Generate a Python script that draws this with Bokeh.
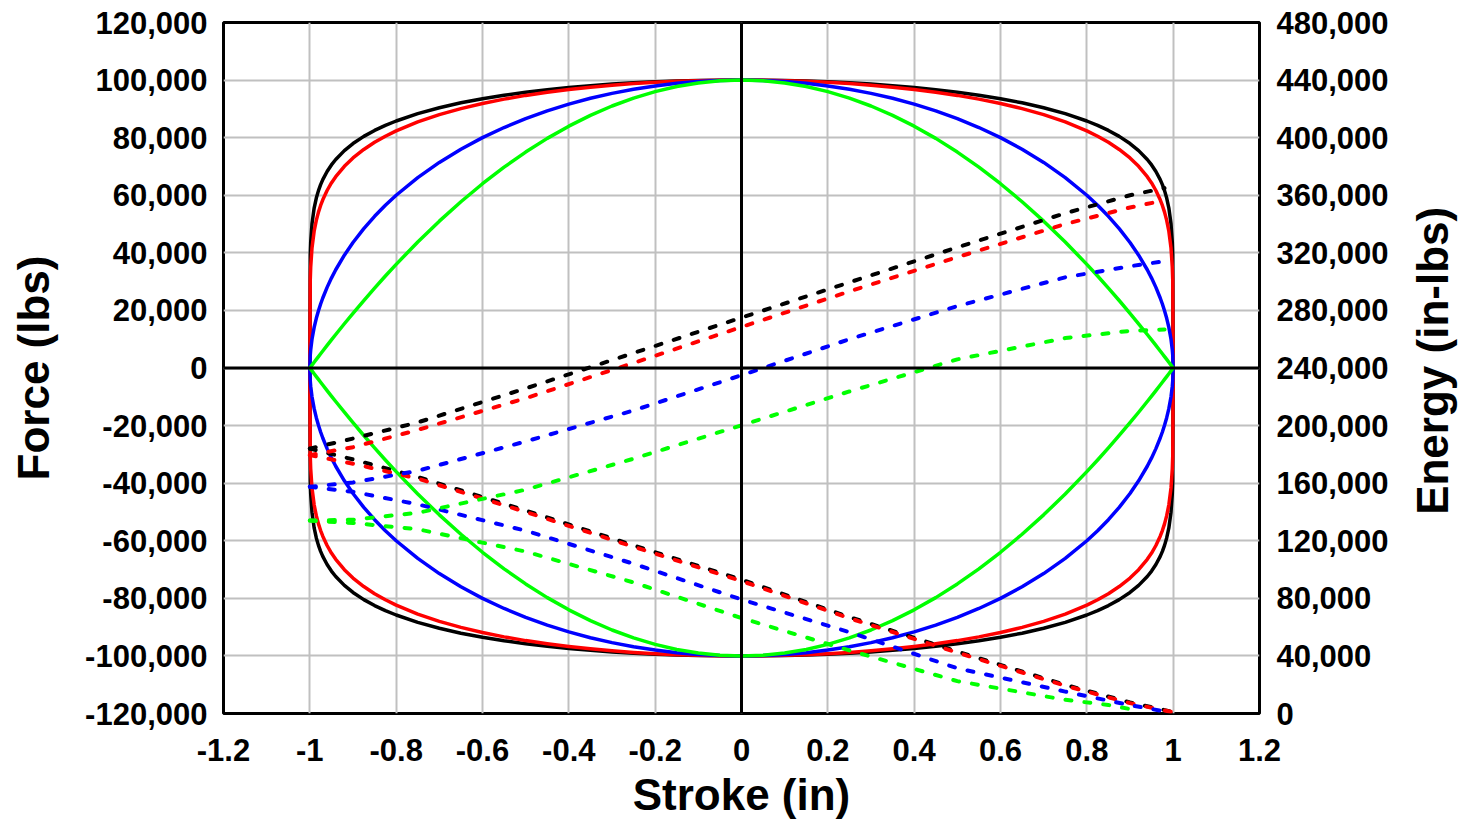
import math
from bokeh.plotting import figure
from bokeh.layouts import row
from bokeh.models import Range1d, LinearAxis, FixedTicker, NumeralTickFormatter, Span
from bokeh.core.properties import value
from bokeh.embed import file_html
from bokeh.resources import INLINE

# ---------------- data ----------------
# The force loops are symmetric: values are given for stroke 0..1 (upper right quarter);
# the loop is assembled by mirroring them to the other quarters.
STROKE_HALF = [0, 0.05, 0.1, 0.15, 0.2, 0.25, 0.3, 0.35, 0.4, 0.45, 0.5, 0.55, 0.6, 0.65,
               0.7, 0.75, 0.8, 0.825, 0.85, 0.875, 0.9, 0.92, 0.94, 0.95, 0.96, 0.97,
               0.975, 0.98, 0.985, 0.99, 0.995, 0.998, 0.999, 1]
FORCE_BLACK = [100000, 99960, 99850, 99660, 99390, 99040, 98600, 98060, 97420, 96660,
               95780, 94740, 93520, 92100, 90390, 88340, 85790, 84260, 82510, 80440,
               77950, 75500, 72430, 70530, 68260, 65420, 63680, 61610, 59030, 55570,
               50100, 43680, 39370, 0]
FORCE_RED = [100000, 99950, 99810, 99570, 99230, 98780, 98220, 97550, 96740, 95790,
             94680, 93380, 91870, 90090, 87990, 85460, 82360, 80500, 78380, 75910,
             72940, 70050, 66450, 64260, 61650, 58430, 56460, 54150, 51290, 47510,
             41670, 35020, 30700, 0]
FORCE_BLUE = [100000, 99870, 99500, 98870, 97980, 96820, 95390, 93670, 91650, 89300,
              86600, 83520, 80000, 75990, 71410, 66140, 60000, 56510, 52680, 48410,
              43590, 39190, 34120, 31220, 28000, 24310, 22220, 19900, 17260, 14110,
              9990, 6320, 4470, 0]
FORCE_GREEN = [100000, 99750, 99000, 97750, 96000, 93750, 91000, 87750, 84000, 79750,
               75000, 69750, 64000, 57750, 51000, 43750, 36000, 31940, 27750, 23440,
               19000, 15360, 11640, 9750, 7840, 5910, 4940, 3960, 2980, 1990,
               1000, 400, 200, 0]

# energy (in-lbs) curves, right axis
RISE_X = [-1, -0.9, -0.75, -0.5, -0.25, 0, 0.25, 0.5, 0.75, 0.9, 0.98]
RISE_BLACK = [184000, 191000, 202200, 225800, 250400, 275000, 299500, 323800, 347500, 360000, 365000]
RISE_RED = [179500, 185000, 197000, 219000, 243500, 268500, 293200, 317000, 340000, 351500, 356500]
RISE_BLUE = [157500, 160500, 168600, 189000, 210500, 235000, 260000, 283000, 303000, 310700, 314200]
RISE_GREEN = [134000, 134600, 139400, 155500, 177000, 200200, 223700, 246000, 260800, 265800, 266800]

FALL_X = [-1, -0.9, -0.75, -0.5, -0.25, 0, 0.25, 0.5, 0.75, 0.9, 1.0]
FALL_BLACK = [184000, 176500, 164300, 141000, 116800, 93000, 67000, 43000, 19900, 7700, 1000]
FALL_RED = [179500, 173500, 163200, 140000, 115800, 92000, 66200, 42300, 19300, 7200, 800]
FALL_X_BLUE = [-1, -0.9, -0.75, -0.5, -0.25, 0, 0.25, 0.5, 0.75, 0.9, 0.98]
FALL_BLUE = [157500, 154000, 145300, 127000, 104000, 79200, 56500, 31400, 15200, 5800, 1500]
FALL_X_GREEN = [-1, -0.9, -0.75, -0.5, -0.25, 0, 0.25, 0.5, 0.75, 0.85, 0.92]
FALL_GREEN = [134000, 132300, 128000, 112500, 91000, 66300, 43800, 22500, 9500, 5900, 2000]

X_TICKS = [-1.2, -1.0, -0.8, -0.6, -0.4, -0.2, 0.0, 0.2, 0.4, 0.6, 0.8, 1.0, 1.2]
X_TICK_LABELS = ["-1.2", "-1", "-0.8", "-0.6", "-0.4", "-0.2", "0", "0.2", "0.4", "0.6", "0.8", "1", "1.2"]
F_TICKS = [-120000, -100000, -80000, -60000, -40000, -20000, 0, 20000, 40000, 60000, 80000, 100000, 120000]
E_TICKS = [0, 40000, 80000, 120000, 160000, 200000, 240000, 280000, 320000, 360000, 400000, 440000, 480000]

X_TITLE = "Stroke (in)"
F_TITLE = "Force (lbs)"
E_TITLE = "Energy (in-lbs)"

# ---------------- styling ----------------
FONT = "Liberation Sans"
COLORS = ["#000000", "#FF0000", "#0000FF", "#00FF00"]
GRID = "#C0C0C0"

W, H = 1466, 821
W2 = 60                      # strip on the right that carries the energy title
W1 = W - W2
BL, BT, BB = 223, 22, 107
BR = W1 - BL - 1036          # frame 1036 px wide

p = figure(width=W1, height=H, output_backend="svg", toolbar_location=None,
           x_range=Range1d(X_TICKS[0], X_TICKS[-1]),
           y_range=Range1d(F_TICKS[0], F_TICKS[-1]),
           min_border_left=BL, min_border_right=BR, min_border_top=BT, min_border_bottom=BB,
           background_fill_color="white", border_fill_color="white")
p.extra_y_ranges = {"energy": Range1d(E_TICKS[0], E_TICKS[-1])}

p.outline_line_color = "black"
p.outline_line_width = 3

p.xaxis.ticker = FixedTicker(ticks=X_TICKS)
p.xaxis.major_label_overrides = {t: l for t, l in zip(X_TICKS, X_TICK_LABELS)}
p.yaxis.ticker = FixedTicker(ticks=F_TICKS)
p.yaxis.formatter = NumeralTickFormatter(format="0,0")
p.xgrid.ticker = FixedTicker(ticks=X_TICKS)
p.ygrid.ticker = FixedTicker(ticks=F_TICKS)
for g in (p.xgrid, p.ygrid):
    g.grid_line_color = GRID
    g.grid_line_width = 2

fax = p.left[0]
eax = LinearAxis(y_range_name="energy", ticker=FixedTicker(ticks=E_TICKS),
                 formatter=NumeralTickFormatter(format="0,0"))
p.add_layout(eax, "right")

xax = p.below[0]
xax.axis_label = X_TITLE
fax.axis_label = F_TITLE
eax.axis_label = None

for ax in (xax, fax, eax):
    ax.axis_line_color = None
    ax.major_tick_line_color = None
    ax.minor_tick_line_color = None
    ax.major_tick_out = 0
    ax.major_tick_in = 0
    ax.major_label_text_font = FONT
    ax.major_label_text_font_style = "bold"
    ax.major_label_text_font_size = "31px"
    ax.major_label_text_color = "black"
    ax.axis_label_text_font = FONT
    ax.axis_label_text_font_style = "bold"
    ax.axis_label_text_font_size = "44px"
    ax.axis_label_text_color = "black"

xax.major_label_standoff = 25
xax.axis_label_standoff = 6
fax.major_label_standoff = 16
fax.axis_label_standoff = 24
eax.major_label_standoff = 17

# zero lines
p.add_layout(Span(location=0, dimension="width", line_color="black", line_width=3))
p.add_layout(Span(location=0, dimension="height", line_color="black", line_width=3))

# force loops (mirror the quarter data into the full closed loop)
neg_x = [-h for h in STROKE_HALF[::-1]]
upper_x = neg_x + STROKE_HALF[1:]
loop_x = upper_x + upper_x[::-1]
for force, col in zip([FORCE_BLACK, FORCE_RED, FORCE_BLUE, FORCE_GREEN], COLORS):
    upper_y = force[::-1] + force[1:]
    loop_y = upper_y + [-v for v in upper_y[::-1]]
    p.line(loop_x, loop_y, line_color=col, line_width=3.5, line_join="round")

# energy curves
rises = [(RISE_X, RISE_BLACK), (RISE_X, RISE_RED), (RISE_X, RISE_BLUE), (RISE_X, RISE_GREEN)]
falls = [(FALL_X, FALL_BLACK), (FALL_X, FALL_RED), (FALL_X_BLUE, FALL_BLUE), (FALL_X_GREEN, FALL_GREEN)]
for (rx, ry), (fx, fy), col in zip(rises, falls, COLORS):
    p.line(rx, ry, y_range_name="energy", line_color=col, line_width=4,
           line_dash="6 13", line_cap="round")
    p.line(fx, fy, y_range_name="energy", line_color=col, line_width=4,
           line_dash="6 13", line_cap="round")

# right-hand title strip: the energy axis title reading bottom-to-top
p2 = figure(width=W2, height=H, output_backend="svg", toolbar_location=None,
            x_range=Range1d(0, W2), y_range=Range1d(0, H),
            min_border=0, min_border_left=0, min_border_right=0,
            min_border_top=0, min_border_bottom=0,
            background_fill_color="white", border_fill_color="white", outline_line_color=None)
p2.axis.visible = False
p2.grid.visible = False
TITLE_POS_X = 26       # horizontal position of the title inside the strip
TITLE_POS_Y = 419      # vertical position (from the bottom of the strip)
p2.text(x=[TITLE_POS_X], y=[TITLE_POS_Y], text=[E_TITLE], angle=math.pi / 2,
        text_align="center", text_baseline="middle", text_font=value(FONT),
        text_font_style="bold", text_font_size="44px", text_color="black")

layout = row(p, p2, spacing=0)
open("out.html", "w").write(file_html(layout, INLINE))
